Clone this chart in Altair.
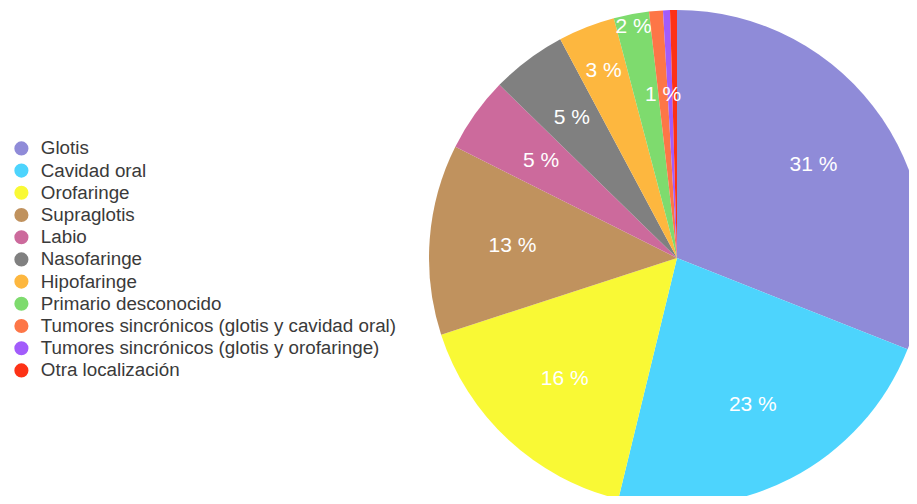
import altair as alt
import pandas as pd

categories = [
    "Glotis",
    "Cavidad oral",
    "Orofaringe",
    "Supraglotis",
    "Labio",
    "Nasofaringe",
    "Hipofaringe",
    "Primario desconocido",
    "Tumores sincrónicos (glotis y cavidad oral)",
    "Tumores sincrónicos (glotis y orofaringe)",
    "Otra localización",
]
values = [31.0, 22.8, 16.2, 12.4, 4.9, 4.9, 3.7, 2.3, 0.9, 0.45, 0.45]
labels = ["31 %", "23 %", "16 %", "13 %", "5 %", "5 %", "3 %", "2 %", "1 %", "", ""]
colors = [
    "#8f8bd8", "#4dd4fd", "#f9f935", "#c0925e", "#cc6a9c", "#808080",
    "#fdb73f", "#7edb6e", "#fd7647", "#a25cfb", "#fd3216",
]
# label distance from pie centre (layout only)
label_radius = [165, 165, 165, 165, 167, 175, 201, 235, 164, 0, 0]

df = pd.DataFrame({
    "cat": categories,
    "value": values,
    "label": labels,
    "order": list(range(len(categories))),
    "lr": label_radius,
})

CX, CY, R = 669, 250, 248

pie = alt.Chart(df).mark_arc(radius=R, stroke=None).encode(
    theta=alt.Theta("value:Q", stack=True),
    order=alt.Order("order:Q", sort="ascending"),
    x=alt.value(CX),
    y=alt.value(CY),
    color=alt.Color(
        "cat:N",
        scale=alt.Scale(domain=categories, range=colors),
        sort=categories,
        legend=alt.Legend(
            title=None,
            orient="none",
            legendX=4,
            legendY=131,
            padding=0,
            symbolType="circle",
            symbolSize=200,
            symbolStrokeWidth=0,
            labelOffset=10,
            labelFontSize=18.8,
            labelFont="Liberation Sans",
            labelColor="#3a3a3a",
            labelLimit=600,
            rowPadding=2.2,
        ),
    ),
)

text = alt.Chart(df).transform_window(
    cum="sum(value)", sort=[alt.SortField("order", order="ascending")]
).transform_calculate(
    mid="datum.cum - datum.value / 2"
).mark_text(
    font="Liberation Sans", fontSize=21, color="white",
    align="center", baseline="middle",
).encode(
    theta=alt.Theta("mid:Q", stack=None),
    x=alt.value(CX),
    y=alt.value(CY),
    radius=alt.Radius("lr:Q", scale=None),
    text="label:N",
)

chart = (pie + text).properties(
    width=901,
    height=488,
    padding=0,
    autosize=alt.AutoSizeParams(type="none"),
).configure_view(stroke=None)

chart.save("out.html", embed_options={"renderer": "svg", "actions": False})
